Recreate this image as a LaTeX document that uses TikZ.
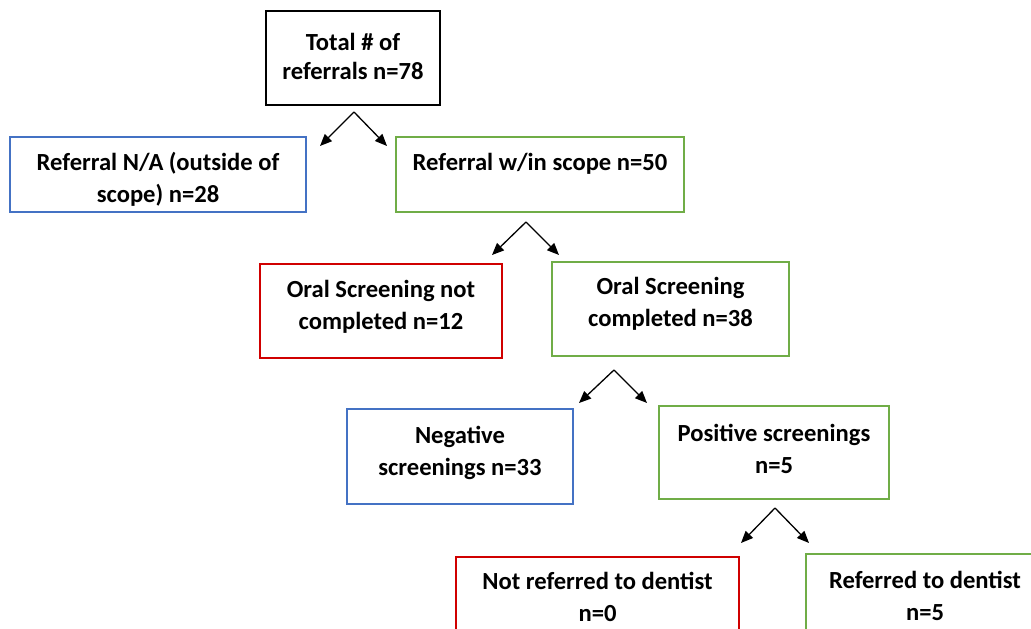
\documentclass[tikz,border=0pt]{standalone}
\usepackage{fontspec}
\setmainfont{Carlito}
\usetikzlibrary{arrows.meta}
\definecolor{bxblue}{HTML}{4472C4}
\definecolor{bxgreen}{HTML}{70AD47}
\definecolor{bxred}{HTML}{D00000}
\tikzset{
  box/.style={draw, line width=2.4pt, rectangle, inner sep=0pt},
  txt/.style={align=center, inner sep=0pt, font=\fontsize{24.6}{32}\selectfont\bfseries, text=black},
  arr/.style={draw=black, line width=1.3pt, -{Triangle[length=12pt,width=10pt]}},
}
\begin{document}
\begin{tikzpicture}[x=1pt,y=-1pt]
\useasboundingbox (0,0) rectangle (1031,629);
\clip (0,0) rectangle (1031,629);
\node[box, draw=black, minimum width=174pt, minimum height=94pt] (b1) at (353,58) {};
\node[box, draw=bxblue, minimum width=296pt, minimum height=75pt] (b2) at (158,174.5) {};
\node[box, draw=bxgreen, minimum width=288pt, minimum height=75pt] (b3) at (540,174.5) {};
\node[box, draw=bxred, minimum width=242pt, minimum height=94pt] (b4) at (381,311) {};
\node[box, draw=bxgreen, minimum width=237pt, minimum height=94pt] (b5) at (670.5,309) {};
\node[box, draw=bxblue, minimum width=226pt, minimum height=95pt] (b6) at (460,456.5) {};
\node[box, draw=bxgreen, minimum width=230pt, minimum height=93pt] (b7) at (774,452.5) {};
\node[box, draw=bxred, minimum width=283pt, minimum height=93pt] (b8) at (597.5,603.5) {};
\node[box, draw=bxgreen, minimum width=238pt, minimum height=93pt] (b9) at (925,600.5) {};
\node[txt, font=\fontsize{24.6}{29}\selectfont\bfseries] (t1) at (353,56) {Total \# of\\referrals n=78};
\node[txt] (t2) at (158,179.5) {Referral N/A (outside of\\scope) n=28};
\node[txt] (t3) at (540,177.5) {Referral w/in scope n=50\\\mbox{}};
\node[txt] (t4) at (381,306.5) {Oral Screening not\\completed n=12};
\node[txt] (t5) at (670.5,304) {Oral Screening\\completed n=38};
\node[txt] (t6) at (460,453) {Negative\\screenings n=33};
\node[txt] (t7) at (774,448.5) {Positive screenings\\n=5};
\node[txt] (t8) at (597.5,596.5) {Not referred to dentist\\n=0};
\node[txt] (t9) at (925,595.5) {Referred to dentist\\n=5};
\coordinate (p1) at (354,112); \coordinate (l1) at (320,146); \coordinate (r1) at (387,146);
\coordinate (p2) at (526,222); \coordinate (l2) at (492,255); \coordinate (r2) at (559,255);
\coordinate (p3) at (614,370); \coordinate (l3) at (579,403); \coordinate (r3) at (647,403);
\coordinate (p4) at (775,508); \coordinate (l4) at (741,543); \coordinate (r4) at (809,543);
\draw[arr] (p1) -- (l1); \draw[arr] (p1) -- (r1);
\draw[arr] (p2) -- (l2); \draw[arr] (p2) -- (r2);
\draw[arr] (p3) -- (l3); \draw[arr] (p3) -- (r3);
\draw[arr] (p4) -- (l4); \draw[arr] (p4) -- (r4);
\end{tikzpicture}
\end{document}
